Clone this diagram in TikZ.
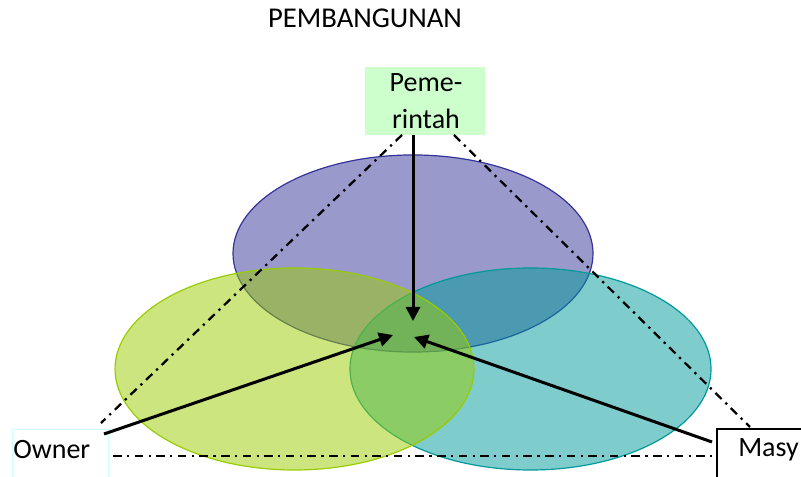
\documentclass[tikz,border=0pt]{standalone}
\usepackage{fontspec}
\setmainfont{Carlito}
\usetikzlibrary{arrows.meta}

\definecolor{govblue}{HTML}{333399}
\definecolor{ownergreen}{HTML}{99CC00}
\definecolor{publicteal}{HTML}{009999}
\definecolor{govfill}{HTML}{CCFFCC}
\definecolor{ownerframe}{HTML}{CCFFFF}

\begin{document}
\begin{tikzpicture}[x=0.75pt,y=-0.75pt,
  title/.style={font=\fontsize{21.5}{26}\selectfont, inner sep=0pt},
  lbl/.style={font=\fontsize{21}{25}\selectfont, inner sep=0pt},
  blob/.style={line width=0.9pt, fill opacity=0.5},
  ddline/.style={line width=1.7pt, dash pattern=on 6.5pt off 4pt on 1.7pt off 4pt},
  pointer/.style={line width=2.25pt, -{Triangle[length=10.5pt,width=10.5pt]}},
]
\useasboundingbox (0,0) rectangle (801,477);

% three overlapping spheres of interest
\filldraw[blob, draw=govblue, fill=govblue] (413,253.5) ellipse [x radius=135pt, y radius=73.9pt];
\filldraw[blob, draw=publicteal, fill=publicteal] (530.5,369) ellipse [x radius=135.4pt, y radius=75.75pt];
\filldraw[blob, draw=ownergreen, fill=ownergreen] (294.5,369) ellipse [x radius=134.6pt, y radius=75.75pt];

% title
\node[title, anchor=base] (head) at (365,28) {PEMBANGUNAN};

% actor boxes
\node[fill=govfill, minimum width=90pt, minimum height=51pt, inner sep=0pt] (gov) at (425,101) {};
\node[lbl, anchor=base] (govA) at (426,92) {Peme-};
\node[lbl, anchor=base] (govB) at (426,129) {rintah};

\node[draw=ownerframe, line width=0.75pt, minimum width=72pt, minimum height=52.5pt, inner sep=0pt] (owner) at (60,465) {};
\node[lbl, anchor=base west] (ownerT) at (13,459) {Owner};

\node[draw=black, line width=1.1pt, minimum width=77.25pt, minimum height=53.25pt, inner sep=0pt] (masy) at (768.5,464.5) {};
\node[lbl, anchor=base west] (masyT) at (738,457) {Masy};

% triangle of relations
\coordinate (triL) at (402,135);
\coordinate (triR) at (454,135);
\coordinate (baseL) at (101,423);
\coordinate (baseR) at (750,427);
\coordinate (lineL) at (113,456);
\coordinate (lineR) at (716,456);
\draw[ddline] (triL) -- (baseL);
\draw[ddline] (triR) -- (baseR);
\draw[ddline] (lineL) -- (lineR);

% arrows into the shared centre
\coordinate (tipTop) at (413,321);
\coordinate (tipLeft) at (393,335);
\coordinate (tipRight) at (414,337);
\coordinate (ownerOut) at (104,434);
\coordinate (masyOut) at (712,442);
\draw[pointer] (gov.south -| tipTop) -- (tipTop);
\draw[pointer] (ownerOut) -- (tipLeft);
\draw[pointer] (masyOut) -- (tipRight);
\end{tikzpicture}
\end{document}
